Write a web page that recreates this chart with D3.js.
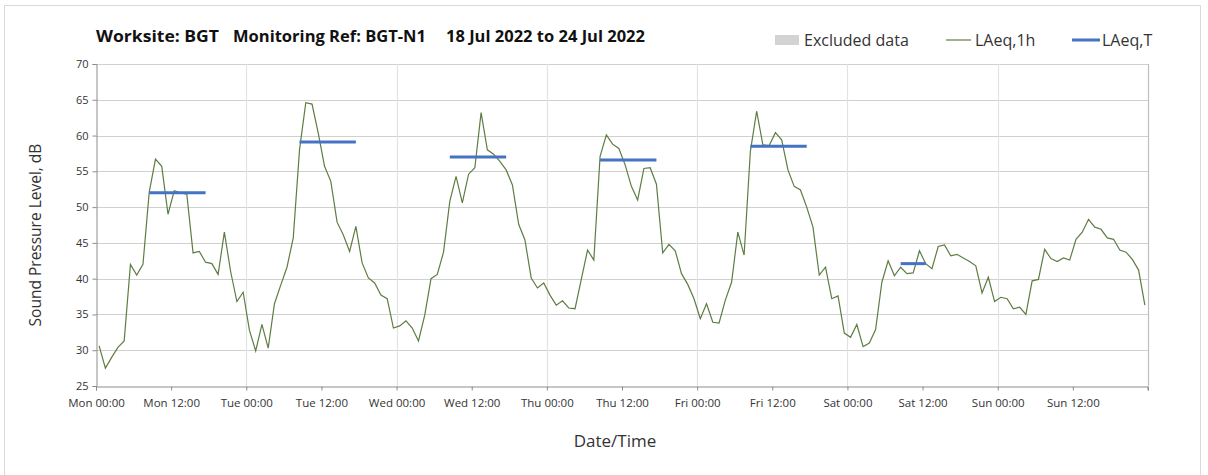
<!DOCTYPE html>
<html>
<head>
<meta charset="utf-8">
<script src="https://cdn.jsdelivr.net/npm/d3@7"></script>
<style>
  body { margin: 0; background: #fff; }
  svg { display: block; font-family: "Open Sans", sans-serif; }
</style>
</head>
<body>
<div id="chart"></div>
<script>
'use strict'

// hourly LAeq,1h readings, Mon 00:00 .. Sun 23:00
var laeq1h = [
  30.6, 27.5, 29.0, 30.4, 31.3, 42.0, 40.5, 42.0, 52.1, 56.7, 55.7, 49.0,
  52.3, 52.0, 51.8, 43.6, 43.8, 42.3, 42.1, 40.6, 46.5, 41.0, 36.8, 38.1,
  32.8, 29.9, 33.6, 30.3, 36.5, 39.1, 41.6, 45.7, 58.0, 64.6, 64.4, 60.3,
  55.7, 53.6, 47.9, 46.1, 43.8, 47.3, 42.2, 40.1, 39.4, 37.7, 37.2, 33.1,
  33.4, 34.1, 33.1, 31.3, 34.9, 40.0, 40.6, 43.7, 50.8, 54.3, 50.6, 54.6,
  55.5, 63.2, 58.0, 57.4, 56.4, 55.2, 53.1, 47.6, 45.4, 40.1, 38.7, 39.4,
  37.7, 36.3, 36.9, 35.9, 35.8, 39.9, 44.0, 42.6, 57.1, 60.1, 58.8, 58.2,
  55.9, 52.9, 51.0, 55.4, 55.5, 53.2, 43.6, 44.8, 43.9, 40.7, 39.2, 37.2,
  34.4, 36.5, 33.9, 33.8, 37.0, 39.5, 46.5, 43.3, 57.8, 63.4, 58.7, 58.6,
  60.4, 59.4, 55.2, 52.9, 52.4, 50.0, 47.2, 40.5, 41.6, 37.2, 37.6, 32.4,
  31.8, 33.6, 30.5, 31.0, 32.9, 39.5, 42.5, 40.4, 41.6, 40.7, 40.8, 43.9,
  42.1, 41.4, 44.5, 44.7, 43.2, 43.4, 42.9, 42.4, 41.8, 38.0, 40.2, 36.8,
  37.4, 37.2, 35.8, 36.0, 35.0, 39.7, 39.9, 44.1, 42.8, 42.4, 42.9, 42.6,
  45.5, 46.5, 48.3, 47.2, 46.9, 45.7, 45.5, 44.0, 43.7, 42.7, 41.2, 36.3
];

// LAeq,T over working periods (first and last hour index)
var periodStart = [8, 32, 56, 80, 104, 128];
var periodEnd = [17, 41, 65, 89, 113, 132];
var laeqT = [52.0, 59.1, 57.0, 56.6, 58.5, 42.1];

var tickLabels = ["Mon 00:00", "Mon 12:00", "Tue 00:00", "Tue 12:00", "Wed 00:00", "Wed 12:00",
  "Thu 00:00", "Thu 12:00", "Fri 00:00", "Fri 12:00", "Sat 00:00", "Sat 12:00", "Sun 00:00", "Sun 12:00"];
var yTicks = [25, 30, 35, 40, 45, 50, 55, 60, 65, 70];

var titleParts = ["Worksite: BGT", "Monitoring Ref: BGT-N1", "18 Jul 2022 to 24 Jul 2022"];

var noiseChart = (function(){
    var self = {},
    _svg, _x, _y,
    W = 1208, H = 475,
    left = 96, right = 1148, top = 64, bottom = 386,

    addSVGToDOM = function(placeHolder){
        _svg = d3.select(placeHolder).append("svg")
            .attr("width", W)
            .attr("height", H);

        // outer chart border
        _svg.append("rect")
            .attr("x", 4.5).attr("y", 5.5)
            .attr("width", 1196).attr("height", 480)
            .attr("fill", "#fff")
            .attr("stroke", "#d9d9d9");
    },

    createScales = function(){
        _x = d3.scaleLinear().domain([0, 168]).range([left, right]);
        _y = d3.scaleLinear().domain([25, 70]).range([bottom, top]);
    },

    drawGrid = function(){
        var g = _svg.append("g").attr("class", "grid");

        g.selectAll(".hgrid")
            .data(yTicks.slice(1))
            .enter().append("line")
            .attr("x1", left).attr("x2", right)
            .attr("y1", function(d){ return Math.round(_y(d)) + 0.5; })
            .attr("y2", function(d){ return Math.round(_y(d)) + 0.5; })
            .attr("stroke", "#d0d0d0")
            .attr("stroke-width", 1.2);

        g.selectAll(".vgrid")
            .data(d3.range(24, 169, 24))
            .enter().append("line")
            .attr("x1", function(d){ return Math.round(_x(d)) + 0.5; })
            .attr("x2", function(d){ return Math.round(_x(d)) + 0.5; })
            .attr("y1", top).attr("y2", bottom)
            .attr("stroke", function(d){ return d === 168 ? "#bfbfbf" : "#e3e3e3"; })
            .attr("stroke-width", 1.2);
    },

    drawAxes = function(){
        var yAxis = d3.axisLeft(_y)
            .tickValues(yTicks)
            .tickSize(4)
            .tickPadding(4);

        var xAxis = d3.axisBottom(_x)
            .tickValues(d3.range(0, 168, 12))
            .tickSize(4)
            .tickPadding(8)
            .tickFormat(function(d, i){ return tickLabels[i]; });

        var gy = _svg.append("g")
            .attr("transform", "translate(" + (left + 0.5) + ",0)")
            .call(yAxis);
        gy.select(".domain").attr("stroke", "#8c8c8c");
        gy.selectAll(".tick line").attr("stroke", "#8c8c8c");
        gy.selectAll(".tick text")
            .attr("font-size", 11)
            .attr("fill", "#333")
            .attr("font-family", "Open Sans");

        var gx = _svg.append("g")
            .attr("transform", "translate(0," + (bottom + 0.5) + ")")
            .call(xAxis);
        gx.select(".domain").attr("stroke", "#8c8c8c");
        gx.selectAll(".tick line").attr("stroke", "#8c8c8c");
        gx.selectAll(".tick text")
            .attr("font-size", 11.5)
            .attr("fill", "#333")
            .attr("font-family", "Open Sans");

        // closing tick at right end
        gx.append("line")
            .attr("x1", _x(168)).attr("x2", _x(168))
            .attr("y1", 0).attr("y2", 4)
            .attr("stroke", "#8c8c8c");
    },

    drawSeries = function(){
        var line = d3.line()
            .x(function(d, i){ return _x(i + 0.5); })
            .y(function(d){ return _y(d); });

        _svg.append("path")
            .datum(laeq1h)
            .attr("d", line)
            .attr("fill", "none")
            .attr("stroke", "#5e7d43")
            .attr("stroke-width", 1.2);

        _svg.append("g").selectAll("line")
            .data(laeqT)
            .enter().append("line")
            .attr("x1", function(d, i){ return _x(periodStart[i] + 0.5); })
            .attr("x2", function(d, i){ return _x(periodEnd[i] + 0.5); })
            .attr("y1", function(d){ return _y(d); })
            .attr("y2", function(d){ return _y(d); })
            .attr("stroke", "#4472c4")
            .attr("stroke-width", 3);
    },

    drawTexts = function(){
        // title pieces, placed and stretched to the reference widths
        var titleX = [96, 233, 446], titleW = [123, 193, 199];
        _svg.append("g").selectAll("text")
            .data(titleParts)
            .enter().append("text")
            .attr("x", function(d, i){ return titleX[i]; })
            .attr("y", 42)
            .attr("font-size", 15.5)
            .attr("font-weight", "bold")
            .attr("fill", "#111")
            .attr("textLength", function(d, i){ return titleW[i]; })
            .attr("lengthAdjust", "spacingAndGlyphs")
            .text(function(d){ return d; });

        _svg.append("text")
            .attr("transform", "translate(41,235) rotate(-90)")
            .attr("text-anchor", "middle")
            .attr("font-size", 15.5)
            .attr("fill", "#333")
            .text("Sound Pressure Level, dB");

        _svg.append("text")
            .attr("x", 615).attr("y", 447)
            .attr("text-anchor", "middle")
            .attr("font-size", 17)
            .attr("fill", "#333")
            .text("Date/Time");
    },

    drawLegend = function(){
        var g = _svg.append("g").attr("font-size", 16).attr("fill", "#333");

        g.append("rect")
            .attr("x", 775).attr("y", 35)
            .attr("width", 24).attr("height", 10)
            .attr("fill", "#d3d3d3");
        g.append("text").attr("x", 804).attr("y", 46).text("Excluded data");

        g.append("line")
            .attr("x1", 946).attr("x2", 971)
            .attr("y1", 40).attr("y2", 40)
            .attr("stroke", "#5e7d43").attr("stroke-width", 1.2);
        g.append("text").attr("x", 975).attr("y", 46).text("LAeq,1h");

        g.append("line")
            .attr("x1", 1072).attr("x2", 1100)
            .attr("y1", 40).attr("y2", 40)
            .attr("stroke", "#4472c4").attr("stroke-width", 3);
        g.append("text").attr("x", 1102).attr("y", 46).text("LAeq,T");
    };

    self.init = function(placeHolder){
        addSVGToDOM(placeHolder);
        createScales();
        drawGrid();
        drawAxes();
        drawSeries();
        drawTexts();
        drawLegend();
    };

    return self;
}());

noiseChart.init("#chart");
</script>
</body>
</html>
